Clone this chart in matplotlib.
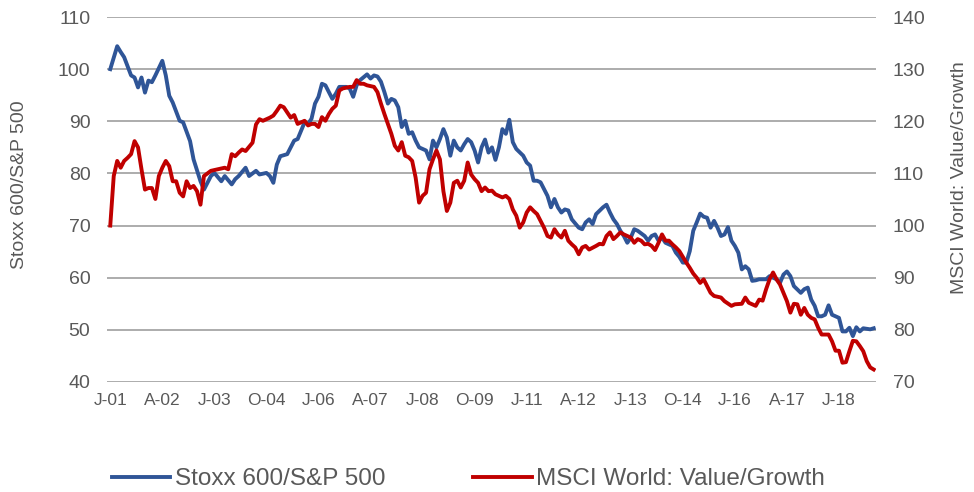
import matplotlib
matplotlib.use("Agg")
import matplotlib.pyplot as plt

plt.rcParams["font.family"] = ["Liberation Sans", "DejaVu Sans"]

# Months since Jan 2001
stoxx_month = [0, 2, 3, 4, 6, 7, 8, 9, 10, 11, 12, 13, 15, 16, 17, 18, 20, 21, 23, 24,
               26, 27, 29, 30, 32, 33, 35, 36, 37, 39, 40, 42, 43, 45, 46, 47, 48, 49, 51, 52,
               53, 54, 55, 56, 57, 58, 59, 60, 61, 62, 63, 64, 65, 66, 68, 69, 70, 71, 72, 74,
               75, 76, 77, 78, 79, 80, 81, 82, 83, 84, 85, 86, 87, 88, 89, 90, 91, 92, 93, 94,
               95, 96, 97, 98, 99, 100, 101, 102, 103, 104, 105, 106, 107, 108, 109, 110, 111, 112, 113, 114,
               115, 116, 117, 119, 120, 121, 122, 123, 124, 125, 126, 127, 128, 129, 130, 131, 132, 133, 135, 136,
               137, 138, 139, 140, 142, 143, 144, 145, 146, 147, 148, 149, 150, 151, 152, 154, 155, 156, 157, 158,
               159, 160, 162, 163, 164, 165, 166, 167, 168, 169, 170, 171, 172, 173, 174, 175, 176, 177, 178, 179,
               180, 181, 182, 183, 184, 185, 186, 187, 189, 190, 191, 192, 193, 194, 195, 196, 197, 199, 200, 201,
               202, 203, 204, 205, 206, 207, 208, 210, 211, 212, 213, 214, 215, 216, 217, 219, 220]
stoxx = [100.0, 104.4, 103.3, 102.3, 98.8, 98.4, 96.5, 98.4, 95.5, 97.8, 97.5, 98.8, 101.6, 98.8, 94.9, 93.6, 90.1, 89.8, 86.2, 82.7,
         78.5, 76.9, 79.5, 80.1, 78.5, 79.5, 77.9, 78.9, 79.5, 81.1, 79.5, 80.5, 79.8, 80.1, 79.5, 78.2, 81.7, 83.3, 83.7, 85.0,
         86.3, 86.6, 88.2, 89.8, 89.5, 90.5, 93.4, 94.7, 97.2, 96.9, 95.6, 94.3, 95.3, 96.6, 96.6, 96.3, 94.7, 96.9, 97.9, 99.0,
         98.2, 98.8, 98.6, 97.6, 95.6, 93.4, 94.3, 94.0, 92.7, 88.9, 90.1, 87.6, 87.9, 86.3, 85.0, 84.7, 84.4, 82.7, 86.3, 85.0,
         86.6, 88.5, 86.9, 83.4, 86.3, 85.0, 84.4, 85.6, 86.6, 86.0, 84.4, 82.1, 85.0, 86.5, 84.0, 85.0, 82.6, 85.0, 88.5, 87.6,
         90.3, 86.0, 84.7, 83.4, 82.1, 81.5, 78.6, 78.6, 78.3, 77.0, 75.7, 73.5, 75.1, 73.5, 72.5, 73.1, 72.9, 71.2, 69.6, 69.3,
         70.6, 71.2, 70.3, 72.2, 73.5, 74.0, 72.5, 71.2, 70.3, 69.0, 68.0, 66.7, 67.7, 69.3, 69.0, 68.0, 67.1, 68.0, 68.3, 67.1,
         67.7, 66.7, 66.1, 64.8, 64.0, 62.9, 62.9, 65.1, 69.0, 70.6, 72.3, 71.7, 71.5, 69.6, 70.9, 69.6, 68.0, 68.3, 69.7, 67.1,
         66.1, 64.8, 61.6, 62.2, 61.6, 59.4, 59.5, 59.7, 59.7, 60.3, 60.0, 59.7, 59.0, 60.6, 61.2, 60.3, 58.4, 57.1, 57.8, 58.1,
         55.8, 54.6, 52.6, 52.6, 52.9, 54.7, 52.9, 52.3, 49.7, 49.7, 50.4, 48.8, 50.5, 49.7, 50.3, 50.1, 50.3]

msci_month = [0, 1, 2, 3, 4, 5, 6, 7, 8, 9, 10, 11, 12, 13, 14, 15, 16, 17, 18, 19,
              20, 21, 22, 23, 24, 25, 26, 27, 29, 31, 33, 34, 35, 36, 37, 38, 39, 41, 42, 43,
              44, 46, 47, 48, 49, 50, 51, 52, 53, 54, 55, 56, 57, 58, 59, 60, 61, 62, 63, 64,
              65, 66, 67, 69, 70, 71, 72, 73, 74, 76, 77, 78, 79, 80, 81, 82, 83, 84, 85, 86,
              87, 88, 89, 90, 91, 92, 93, 94, 95, 96, 97, 98, 99, 100, 101, 102, 103, 104, 105, 106,
              107, 108, 109, 110, 111, 113, 114, 115, 116, 117, 118, 119, 120, 121, 122, 123, 124, 125, 126, 127,
              128, 129, 130, 131, 132, 133, 134, 135, 136, 137, 138, 140, 141, 142, 143, 144, 145, 146, 147, 148,
              150, 151, 152, 153, 154, 155, 156, 157, 158, 159, 160, 161, 162, 163, 164, 165, 166, 167, 168, 169,
              170, 171, 172, 173, 174, 176, 177, 179, 180, 182, 183, 184, 185, 186, 187, 188, 189, 190, 191, 192,
              193, 194, 195, 196, 197, 198, 199, 200, 201, 202, 203, 204, 205, 207, 208, 209, 210, 211, 212, 213,
              214, 215, 216, 217, 218, 219, 220]
msci = [100.0, 109.5, 112.4, 111.1, 112.4, 113.0, 113.7, 116.2, 115.0, 110.8, 106.9, 107.2, 107.2, 105.1, 109.5, 111.1, 112.4, 111.4, 108.5, 108.5,
        106.3, 105.6, 108.5, 107.2, 107.6, 106.6, 104.0, 109.5, 110.5, 110.8, 111.1, 110.8, 113.7, 113.3, 114.0, 114.6, 114.3, 115.9, 119.4, 120.4,
        120.1, 120.7, 121.1, 122.0, 123.0, 122.7, 121.7, 120.7, 121.2, 119.5, 119.8, 120.1, 119.2, 119.5, 119.5, 118.9, 120.8, 120.1, 121.4, 122.4,
        123.0, 125.9, 126.3, 126.6, 126.6, 127.9, 127.2, 127.2, 126.9, 126.6, 125.6, 123.4, 121.4, 119.5, 117.6, 115.3, 114.4, 116.0, 113.4, 113.1,
        112.4, 109.2, 104.4, 105.7, 106.3, 110.8, 112.7, 114.4, 112.7, 106.6, 102.8, 104.4, 108.2, 108.6, 107.3, 108.6, 112.1, 109.8, 108.9, 108.2,
        106.6, 107.3, 106.6, 106.7, 106.0, 105.4, 105.7, 105.1, 103.1, 101.9, 99.6, 100.6, 102.5, 103.5, 102.8, 102.2, 100.9, 99.6, 98.0, 97.7,
        99.3, 98.3, 97.7, 99.0, 97.1, 96.4, 95.8, 94.5, 95.8, 96.1, 95.4, 96.1, 96.5, 96.4, 98.0, 98.7, 97.4, 98.0, 98.7, 98.3,
        97.7, 96.7, 97.4, 97.1, 96.4, 96.5, 96.1, 95.3, 96.7, 98.3, 97.1, 97.1, 96.4, 95.8, 95.1, 94.0, 92.9, 91.9, 90.8, 90.0,
        89.0, 89.7, 88.4, 87.1, 86.5, 86.2, 85.5, 84.6, 84.9, 85.0, 86.2, 85.2, 84.9, 84.6, 85.8, 85.6, 87.8, 89.7, 91.0, 89.7,
        88.7, 87.1, 85.5, 83.3, 85.0, 84.9, 82.9, 84.2, 82.9, 82.3, 82.0, 80.4, 79.1, 79.1, 77.8, 76.0, 76.0, 73.7, 73.8, 75.9,
        77.9, 77.8, 76.9, 75.9, 74.0, 72.8, 72.4]

# x-axis labels every 15 months
tick_months = [0, 15, 30, 45, 60, 75, 90, 105, 120, 135, 150, 165, 180, 195, 210]
tick_labels = ["J-01", "A-02", "J-03", "O-04", "J-06", "A-07", "J-08", "O-09",
               "J-11", "A-12", "J-13", "O-14", "J-16", "A-17", "J-18"]

blue = "#2f5597"
red = "#c00000"
text_grey = "#595959"
grid_grey = "#a6a6a6"

fig = plt.figure(figsize=(9.74, 4.92), dpi=100)
ax = fig.add_axes([0.110, 0.2236, 0.7895, 0.7418])
ax2 = ax.twinx()

line1, = ax.plot(stoxx_month, stoxx, color=blue, lw=2.8, solid_joinstyle="round")
line2, = ax2.plot(msci_month, msci, color=red, lw=2.8, solid_joinstyle="round")

# left axis
ax.set_xlim(-0.9, 220.7)
ax.set_ylim(40, 110)
ax.set_yticks(range(40, 111, 10))
ax.grid(axis="y", color=grid_grey, lw=1.3)
ax.set_axisbelow(True)
ax.set_xticks(tick_months)
ax.set_xticklabels(tick_labels)
ax.tick_params(axis="x", length=0, pad=8, labelsize=12.5, labelcolor=text_grey)
ax.tick_params(axis="y", length=0, pad=12, labelsize=14, labelcolor=text_grey)
ax.set_ylabel("Stoxx 600/S&P 500", fontsize=14, color=text_grey)
ax.yaxis.set_label_coords(-0.103, 0.54)

# right axis
ax2.set_ylim(70, 140)
ax2.set_yticks(range(70, 141, 10))
ax2.tick_params(axis="y", length=0, pad=12, labelsize=14, labelcolor=text_grey)
ax2.set_ylabel("MSCI World: Value/Growth", fontsize=14, color=text_grey)
ax2.yaxis.set_label_coords(1.097, 0.56)

for a in (ax, ax2):
    for s in a.spines.values():
        s.set_visible(False)

fig.legend([line1, line2], ["Stoxx 600/S&P 500", "MSCI World: Value/Growth"],
           loc="center left", bbox_to_anchor=(112 / 974, 1 - 479 / 492),
           ncol=2, frameon=False, fontsize=17.5, labelcolor=text_grey,
           handlelength=2.4, handletextpad=0.2, columnspacing=3.6,
           borderpad=0, borderaxespad=0)

fig.savefig("out.png", dpi=100)
